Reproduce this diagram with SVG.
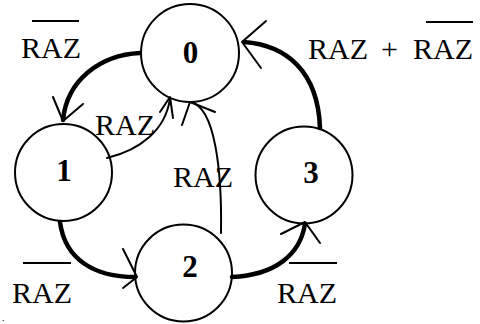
<svg xmlns="http://www.w3.org/2000/svg" width="480" height="324" viewBox="0 0 480 324">
<style>
.st{fill:none;stroke:#000;stroke-width:2}
.num{font-family:"Liberation Serif",serif;font-weight:bold;font-size:31px;text-anchor:middle}
.lbl{font-family:"Liberation Serif",serif;font-size:30px}
.thick{fill:none;stroke:#000;stroke-width:4.5;stroke-linecap:round}
.thin{fill:none;stroke:#000;stroke-width:2;stroke-linecap:round}
.ah{fill:none;stroke:#000;stroke-width:2;stroke-linecap:round;stroke-linejoin:round}
.ov{stroke:#000;stroke-width:2}
</style>
<rect width="480" height="324" fill="#fff"/>
<g id="connectors">
  <path class="thick" d="M140,53 C100,55 67,80 63,120"/>
  <path class="ah" d="M53,97 L63,121 L83,104"/>
  <path class="thin" d="M107,158 C140,150 166,130 170,98"/>
  <path class="ah" d="M160,112 L170,97 L173,118"/>
  <path class="thin" d="M221,233 C222,170 215,108 191,102"/>
  <path class="ah" d="M182,125 L190,102 L215,112"/>
  <path class="thick" d="M60,222 C65,260 95,277 135,277"/>
  <path class="ah" d="M123,249 L137,277 L123,288"/>
  <path class="thick" d="M232,277 C275,275 300,255 305,224"/>
  <path class="ah" d="M281,234 L305,222 L320,243"/>
  <path class="thick" d="M320,128 C318,70 285,45 244,42"/>
  <path class="ah" d="M266,21 L242,42 L261,68"/>
</g>
<g id="node0">
  <circle class="st" cx="190" cy="53" r="49"/>
  <text class="num" x="190.5" y="63">0</text>
</g>
<g id="node1">
  <circle class="st" cx="63.5" cy="172.5" r="48.5"/>
  <text class="num" x="64" y="181">1</text>
</g>
<g id="node2">
  <circle class="st" cx="183.5" cy="273" r="48.5"/>
  <text class="num" x="190" y="277">2</text>
</g>
<g id="node3">
  <circle class="st" cx="304" cy="175" r="48.5"/>
  <text class="num" x="311" y="183">3</text>
</g>
<g id="labels">
  <text class="lbl" x="21" y="58">RAZ</text>
  <line class="ov" x1="32" y1="21" x2="79" y2="21"/>
  <text class="lbl" y="59"><tspan x="308">RAZ</tspan><tspan x="381">+</tspan><tspan x="413">RAZ</tspan></text>
  <line class="ov" x1="426" y1="22" x2="473" y2="22"/>
  <text class="lbl" x="95" y="135">RAZ</text>
  <text class="lbl" x="173" y="187">RAZ</text>
  <text class="lbl" x="12" y="303">RAZ</text>
  <line class="ov" x1="23" y1="263" x2="71" y2="263"/>
  <text class="lbl" x="277" y="303">RAZ</text>
  <line class="ov" x1="289" y1="263" x2="337" y2="263"/>
  <text class="lbl" x="2" y="321" style="font-size:10px">.</text>
</g>
</svg>
